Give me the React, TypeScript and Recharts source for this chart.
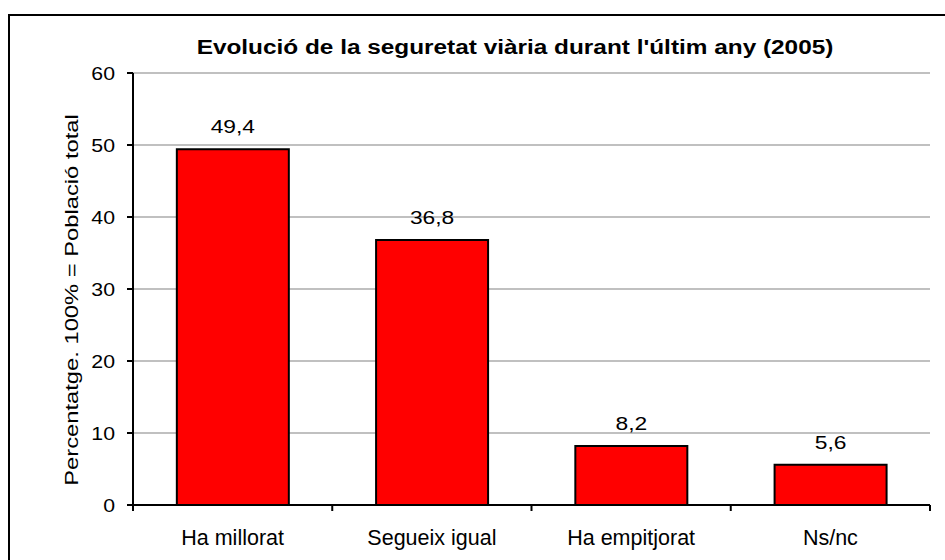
import React from "react";
import { Bar, BarChart, CartesianGrid, LabelList, XAxis, YAxis } from "recharts";

const categories = ["Ha millorat", "Segueix igual", "Ha empitjorat", "Ns/nc"];
const values = [49.4, 36.8, 8.2, 5.6];
const valueLabels = ["49,4", "36,8", "8,2", "5,6"];
const yTicks = [0, 10, 20, 30, 40, 50, 60];

const title = "Evolució de la seguretat viària durant l'últim any (2005)";
const yLabel = "Percentatge. 100% = Població total";

const data = categories.map((name, i) => ({ name, value: values[i], label: valueLabels[i] }));

const FONT = "'Liberation Sans', Arial, sans-serif";

type StretchProps = {
  x: number;
  y: number;
  children: React.ReactNode;
  anchor?: "start" | "middle" | "end";
  sx?: number;
  size?: number;
  bold?: boolean;
  rotate?: number;
  dy?: string;
};

// text in the original is drawn a bit wider than the font normally is
function StretchText({ x, y, children, anchor = "middle", sx = 1.2, size = 19, bold = false, rotate = 0, dy }: StretchProps) {
  return (
    <text
      transform={`translate(${x},${y}) rotate(${rotate}) scale(${sx},1)`}
      textAnchor={anchor}
      fontFamily={FONT}
      fontSize={size}
      fontWeight={bold ? "bold" : "normal"}
      fill="#000"
      dy={dy}
    >
      {children}
    </text>
  );
}

// category label plus tick marks on the band edges (Excel style)
function CategoryTick(p: any) {
  const half = p.payload.offset ?? 0;
  const last = p.index === categories.length - 1;
  return (
    <g>
      <line x1={p.x - half} x2={p.x - half} y1={p.y} y2={p.y + 6} stroke="#000" strokeWidth={2} />
      {last && <line x1={p.x + half} x2={p.x + half} y1={p.y} y2={p.y + 6} stroke="#000" strokeWidth={2} />}
      <StretchText x={p.x} y={p.y + 40} size={21.5} sx={1}>
        {p.payload.value}
      </StretchText>
    </g>
  );
}

export default function App() {
  return (
    <div style={{ paddingLeft: 8, paddingTop: 14 }}>
      <style>{`body{margin:0;overflow:hidden;background:#fff}`}</style>
      <div
        style={{
          width: 937,
          height: 546,
          borderTop: "2px solid #000",
          borderLeft: "2px solid #000",
          boxSizing: "border-box",
        }}
      >
        <BarChart
          width={935}
          height={544}
          data={data}
          margin={{ top: 57, right: 15, left: 0, bottom: 15 }}
          barCategoryGap="22%"
        >
          <CartesianGrid vertical={false} stroke="#c0c0c0" strokeWidth={2} />
          <XAxis
            dataKey="name"
            height={40}
            interval={0}
            tickSize={0}
            tickMargin={0}
            axisLine={{ stroke: "#000", strokeWidth: 2 }}
            tickLine={false}
            tick={CategoryTick}
          />
          <YAxis
            width={123}
            domain={[0, 60]}
            ticks={yTicks}
            interval={0}
            tickSize={6}
            tickMargin={12}
            axisLine={{ stroke: "#000", strokeWidth: 2 }}
            tickLine={{ stroke: "#000", strokeWidth: 2 }}
            tick={(p: any) => (
              <StretchText x={p.x} y={p.y} anchor="end" dy="0.36em" sx={1.12}>
                {p.payload.value}
              </StretchText>
            )}
          />
          <Bar dataKey="value" fill="#ff0000" stroke="#000" strokeWidth={2} isAnimationActive={false}>
            <LabelList
              dataKey="label"
              content={(p: any) => (
                <StretchText x={p.x + p.width / 2} y={p.y - 16}>
                  {p.value}
                </StretchText>
              )}
            />
          </Bar>
          <StretchText x={505} y={38} bold size={19.5} sx={1.25}>
            {title}
          </StretchText>
          <StretchText x={68} y={284} rotate={-90} sx={1.25}>
            {yLabel}
          </StretchText>
        </BarChart>
      </div>
    </div>
  );
}
